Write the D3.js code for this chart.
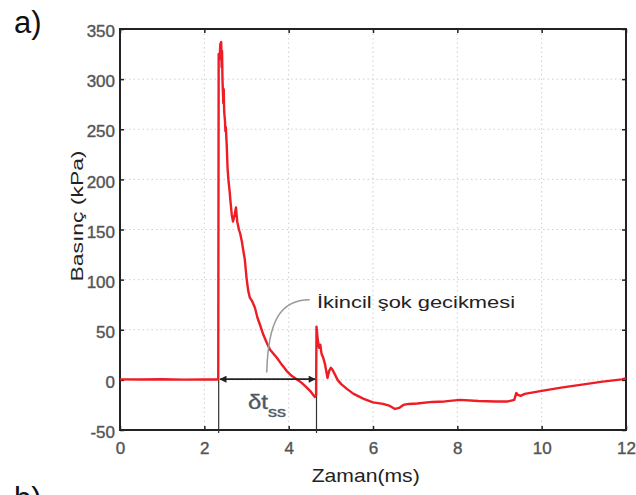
<!DOCTYPE html>
<html>
<head>
<meta charset="utf-8">
<script src="https://cdn.jsdelivr.net/npm/d3@7"></script>
<style>
  html, body { margin: 0; padding: 0; background: #fff; }
  svg { display: block; font-family: "Liberation Sans", Arial, sans-serif; }
</style>
</head>
<body>
<svg id="chart" width="636" height="495"></svg>
<script>
// ---- data ----
const timeMs = [0, 0.5, 1.0, 1.5, 2.0, 2.30, 2.33, 2.34, 2.36, 2.38, 2.40, 2.41, 2.42, 2.43, 2.44, 2.45, 2.46, 2.47,
  2.49, 2.50, 2.51, 2.53, 2.55, 2.57, 2.60, 2.62, 2.65, 2.68, 2.72, 2.75, 2.78, 2.82, 2.85, 2.89, 2.92, 2.96, 3.00,
  3.04, 3.08, 3.14, 3.20, 3.26, 3.32, 3.40, 3.48, 3.56, 3.64, 3.72, 3.84, 3.95, 4.07, 4.19, 4.31, 4.43, 4.53, 4.62,
  4.65, 4.66, 4.69, 4.72, 4.75, 4.78, 4.82, 4.86, 4.92, 4.96, 5.00, 5.04, 5.09, 5.16, 5.24, 5.38, 5.54, 5.78, 6.00,
  6.24, 6.40, 6.52, 6.62, 6.72, 6.85, 7.05, 7.40, 7.70, 8.07, 8.50, 8.90, 9.20, 9.35, 9.40, 9.44, 9.50, 9.60, 10.0,
  10.5, 11.0, 11.4, 11.9, 12.0];
const pressureKPa = [0.5, 0.3, 0.6, 0.2, 0.5, 0.4, 0.5, 325, 320, 335, 337, 312, 328, 300, 288, 276, 290, 268,
  258, 248, 252, 235, 212, 200, 188, 178, 165, 158, 165, 172, 158, 150, 146, 138, 130, 120, 102,
  89, 82, 78, 72, 62, 55, 45, 37, 30, 26, 22, 15, 9, 4, 0.7, -3, -7.7, -12, -17,
  -15, 53, 40, 32, 35, 26, 22, 16, 2, 9, 12, 10, 6, 0, -4, -9, -14, -19, -22.5,
  -24, -26, -29, -28, -25, -24, -23.5, -22, -21.5, -20, -21, -21.5, -21.5, -20, -13, -15, -16, -14, -11,
  -7.5, -4.5, -2, 0.5, 1.7];
const xTickValues = [0, 2, 4, 6, 8, 10, 12];
const yTickValues = [-50, 0, 50, 100, 150, 200, 250, 300, 350];
const shockTimes = [2.34, 4.66];          // primary / secondary shock arrival
const xLabel = "Zaman(ms)";
const yLabel = "Basınç (kPa)";
const annotationText = "İkincil şok gecikmesi";

// ---- layout ----
const svg = d3.select("#chart");
const L = 120, R = 626, T = 29, B = 430;
const x = d3.scaleLinear().domain([0, 12]).range([L, R]);
const y = d3.scaleLinear().domain([-50, 350]).range([B, T]);

// grid
const grid = svg.append("g").attr("stroke", "#cfcfcf").attr("stroke-width", 1).attr("stroke-dasharray", "1.5,3");
grid.selectAll(".gx").data(xTickValues.filter(v => v > 0 && v < 12)).join("line")
  .attr("x1", d => x(d)).attr("x2", d => x(d)).attr("y1", T).attr("y2", B);
grid.selectAll(".gy").data(yTickValues.filter(v => v > -50 && v < 350)).join("line")
  .attr("x1", L).attr("x2", R).attr("y1", d => y(d)).attr("y2", d => y(d));

// axes
const axFont = g => g.call(s => s.select(".domain").remove())
  .call(s => s.selectAll(".tick line").attr("stroke", "#222").attr("stroke-width", 1.5))
  .call(s => s.selectAll("text").attr("fill", "#4a4a4a").attr("font-size", 17)
    .attr("stroke", "#6a6a6a").attr("stroke-width", 0.45));

svg.append("g").attr("transform", `translate(0,${B})`)
  .call(d3.axisBottom(x).tickValues(xTickValues).tickSize(-4).tickPadding(12).tickFormat(d => String(d)))
  .call(axFont);
svg.append("g").attr("transform", `translate(0,${T})`)
  .call(d3.axisTop(x).tickValues(xTickValues).tickSize(-4).tickFormat(""))
  .call(axFont);
svg.append("g").attr("transform", `translate(${L},0)`)
  .call(d3.axisLeft(y).tickValues(yTickValues).tickSize(-4).tickPadding(5).tickFormat(d => String(d)))
  .call(axFont)
  .call(s => s.selectAll("text").attr("dy", "0.45em"));
svg.append("g").attr("transform", `translate(${R},0)`)
  .call(d3.axisRight(y).tickValues(yTickValues).tickSize(-4).tickFormat(""))
  .call(axFont);

// frame
svg.append("rect").attr("x", L).attr("y", T).attr("width", R - L).attr("height", B - T)
  .attr("fill", "none").attr("stroke", "#222").attr("stroke-width", 2);

// shock marker lines
svg.append("g").selectAll("line").data(shockTimes).join("line")
  .attr("x1", d => x(d)).attr("x2", d => x(d))
  .attr("y1", y(0)).attr("y2", B + 3)
  .attr("stroke", "#333").attr("stroke-width", 1.2);

// pressure curve
const line = d3.line().x((d, i) => x(timeMs[i])).y(d => y(d));
svg.append("path").datum(pressureKPa)
  .attr("d", line)
  .attr("fill", "none").attr("stroke", "#ee1c24").attr("stroke-width", 2.4)
  .attr("stroke-linejoin", "round");

// double arrow (delay)
const defs = svg.append("defs");
defs.append("marker").attr("id", "ah").attr("viewBox", "0 0 10 10").attr("refX", 9).attr("refY", 5)
  .attr("markerWidth", 9).attr("markerHeight", 7).attr("markerUnits", "userSpaceOnUse")
  .attr("orient", "auto-start-reverse")
  .append("path").attr("d", "M0,0 L10,5 L0,10 Z").attr("fill", "#222");
svg.append("line")
  .attr("x1", x(shockTimes[0]) + 1.5).attr("x2", x(shockTimes[1]) - 1.5)
  .attr("y1", y(0.7)).attr("y2", y(0.7))
  .attr("stroke", "#222").attr("stroke-width", 1.8)
  .attr("marker-start", "url(#ah)").attr("marker-end", "url(#ah)");

// δt_ss label
const dt = svg.append("text").attr("x", 248).attr("y", 409).attr("fill", "#4a5562")
  .attr("stroke", "#5a6572").attr("stroke-width", 0.4);
dt.append("tspan").attr("font-size", 20).attr("textLength", 20).attr("lengthAdjust", "spacingAndGlyphs").text("δt");
dt.append("tspan").attr("font-size", 15).attr("dy", 8).attr("textLength", 18).attr("lengthAdjust", "spacingAndGlyphs").text("ss");

// annotation leader curve + text
svg.append("path")
  .attr("d", `M${x(3.48)},${y(7.3)} C${x(3.51)},${y(58)} ${x(3.79)},${y(80)} ${x(4.5)},${y(80)}`)
  .attr("fill", "none").attr("stroke", "#9a9a9a").attr("stroke-width", 1.5);
svg.append("text").attr("x", 317).attr("y", 307.5).attr("font-size", 17)
  .attr("textLength", 198).attr("lengthAdjust", "spacingAndGlyphs")
  .attr("fill", "#222").text(annotationText);

// axis titles
svg.append("text").attr("x", 311.7).attr("y", 482).attr("font-size", 18.5)
  .attr("textLength", 108).attr("lengthAdjust", "spacingAndGlyphs")
  .attr("fill", "#222").text(xLabel);
svg.append("text").attr("transform", "translate(82.5,281.5) rotate(-90)").attr("font-size", 16)
  .attr("textLength", 131).attr("lengthAdjust", "spacingAndGlyphs")
  .attr("fill", "#222").text(yLabel);

// panel letters
svg.append("text").attr("x", 14).attr("y", 33).attr("font-size", 31).attr("fill", "#111").text("a)");
svg.append("text").attr("x", 14).attr("y", 509).attr("font-size", 31).attr("fill", "#111").text("b)");
</script>
</body>
</html>
